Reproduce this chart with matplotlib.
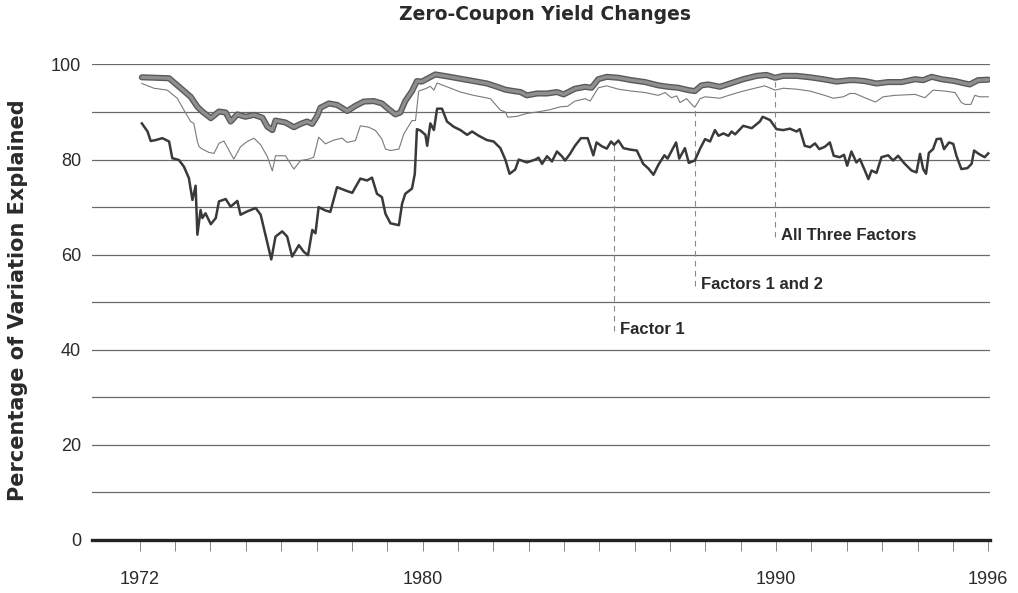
import matplotlib
matplotlib.use("Agg")
import matplotlib.pyplot as plt

# colours
inkDark = "#3a3a3a"
inkGrey = "#7a7a7a"
gridGrey = "#6a6a6a"
textCol = "#2a2a2a"

# --- data (decimal years, percent of variation explained) ---
allYears = [1972.06, 1972.83, 1973.16, 1973.44, 1973.63, 1973.77, 1974.01, 1974.24, 1974.43, 1974.57,
            1974.76, 1974.99, 1975.23, 1975.47, 1975.61, 1975.75, 1975.84, 1976.12, 1976.36, 1976.55,
            1976.73, 1976.88, 1977.02, 1977.11, 1977.35, 1977.58, 1977.87, 1978.10, 1978.34, 1978.62,
            1978.85, 1979.04, 1979.23, 1979.37, 1979.51, 1979.70, 1979.84, 1979.98, 1980.13, 1980.36,
            1980.69, 1981.07, 1981.45, 1981.82, 1982.11, 1982.34, 1982.58, 1982.77, 1982.95, 1983.24,
            1983.52, 1983.80, 1983.99, 1984.31, 1984.60, 1984.78, 1984.97, 1985.21, 1985.54, 1985.91,
            1986.29, 1986.67, 1986.95, 1987.23, 1987.52, 1987.70, 1987.89, 1988.08, 1988.41, 1988.70,
            1989.07, 1989.45, 1989.73, 1989.97, 1990.20, 1990.58, 1990.96, 1991.33, 1991.71, 1992.09,
            1992.23, 1992.51, 1992.84, 1993.17, 1993.55, 1993.93, 1994.16, 1994.40, 1994.68, 1995.06,
            1995.34, 1995.48, 1995.71, 1996.00]
allVals = [97.3, 97.1, 95.0, 93.2, 91.1, 90.1, 88.7, 90.1, 89.9, 88.0,
           89.5, 89.0, 89.4, 88.8, 86.9, 86.2, 88.2, 87.8, 86.8, 87.5,
           88.0, 87.5, 89.2, 90.9, 91.8, 91.5, 90.2, 91.3, 92.2, 92.3,
           91.8, 90.6, 89.5, 89.9, 92.3, 94.4, 96.5, 96.4, 97.0, 97.9,
           97.5, 97.0, 96.5, 96.0, 95.3, 94.7, 94.4, 94.2, 93.5, 93.9,
           93.9, 94.2, 93.7, 94.9, 95.3, 95.1, 96.9, 97.4, 97.2, 96.7,
           96.3, 95.6, 95.3, 95.1, 94.6, 94.4, 95.6, 95.8, 95.3, 96.0,
           96.9, 97.6, 97.8, 97.2, 97.6, 97.6, 97.3, 96.9, 96.4, 96.7,
           96.7, 96.5, 96.0, 96.3, 96.3, 96.9, 96.7, 97.4, 96.9, 96.5,
           96.0, 95.8, 96.7, 96.8]

twoYears = [1972.06, 1972.40, 1972.78, 1973.06, 1973.25, 1973.44, 1973.53, 1973.63, 1973.68, 1973.77,
            1973.96, 1974.10, 1974.24, 1974.38, 1974.52, 1974.66, 1974.85, 1975.04, 1975.23, 1975.42,
            1975.61, 1975.75, 1975.84, 1976.12, 1976.36, 1976.55, 1976.78, 1976.92, 1977.06, 1977.25,
            1977.49, 1977.72, 1977.87, 1978.10, 1978.24, 1978.48, 1978.67, 1978.85, 1978.95, 1979.09,
            1979.33, 1979.47, 1979.70, 1979.80, 1979.89, 1980.08, 1980.22, 1980.32, 1980.41, 1980.69,
            1981.07, 1981.45, 1981.92, 1982.20, 1982.34, 1982.41, 1982.67, 1982.95, 1983.24, 1983.61,
            1983.90, 1984.10, 1984.31, 1984.60, 1984.74, 1984.83, 1984.97, 1985.21, 1985.54, 1985.91,
            1986.29, 1986.67, 1986.86, 1987.04, 1987.19, 1987.28, 1987.47, 1987.61, 1987.70, 1987.85,
            1987.99, 1988.27, 1988.41, 1988.70, 1989.07, 1989.45, 1989.68, 1989.97, 1990.20, 1990.58,
            1990.96, 1991.33, 1991.62, 1991.90, 1992.09, 1992.23, 1992.51, 1992.81, 1993.03, 1993.36,
            1993.93, 1994.21, 1994.44, 1994.77, 1995.06, 1995.24, 1995.34, 1995.51, 1995.62, 1995.76,
            1995.90, 1996.00]
twoVals = [96.0, 95.0, 94.6, 92.9, 90.4, 88.0, 87.6, 83.8, 82.7, 82.2,
           81.5, 81.3, 83.4, 83.9, 82.0, 80.1, 82.7, 83.8, 84.5, 83.1,
           80.6, 77.6, 80.8, 80.8, 78.0, 79.8, 80.1, 80.5, 84.7, 83.3,
           84.1, 84.5, 83.6, 84.0, 87.1, 86.8, 86.1, 84.3, 82.2, 81.9,
           82.2, 85.4, 88.2, 88.2, 94.4, 94.9, 95.4, 94.6, 96.1, 95.3,
           94.2, 93.5, 92.8, 90.4, 90.0, 88.9, 89.1, 89.7, 90.0, 90.5,
           91.1, 91.2, 92.3, 92.8, 92.3, 93.4, 95.1, 95.5, 94.8, 94.4,
           94.1, 93.5, 94.1, 93.0, 93.4, 92.0, 92.8, 91.6, 91.0, 92.8,
           93.2, 93.0, 92.9, 93.6, 94.4, 95.1, 95.5, 94.6, 95.0, 94.8,
           94.4, 93.6, 92.9, 93.2, 93.9, 93.9, 93.0, 92.1, 93.2, 93.5,
           93.7, 93.0, 94.6, 94.4, 94.1, 92.0, 91.6, 91.6, 93.5, 93.2,
           93.2, 93.2]

oneYears = [1972.06, 1972.22, 1972.31, 1972.45, 1972.64, 1972.83, 1972.92, 1973.11, 1973.25, 1973.39,
            1973.49, 1973.58, 1973.63, 1973.72, 1973.77, 1973.86, 1974.01, 1974.15, 1974.24, 1974.43,
            1974.57, 1974.76, 1974.85, 1975.04, 1975.28, 1975.42, 1975.61, 1975.72, 1975.84, 1976.03,
            1976.17, 1976.31, 1976.50, 1976.64, 1976.76, 1976.88, 1976.97, 1977.06, 1977.25, 1977.39,
            1977.58, 1977.82, 1978.01, 1978.24, 1978.43, 1978.57, 1978.71, 1978.85, 1978.95, 1979.09,
            1979.33, 1979.42, 1979.51, 1979.70, 1979.78, 1979.84, 1979.94, 1980.08, 1980.13, 1980.22,
            1980.32, 1980.41, 1980.55, 1980.69, 1980.88, 1981.07, 1981.26, 1981.40, 1981.59, 1981.82,
            1982.01, 1982.20, 1982.34, 1982.46, 1982.62, 1982.72, 1982.95, 1983.19, 1983.28, 1983.38,
            1983.52, 1983.66, 1983.80, 1983.94, 1984.03, 1984.17, 1984.31, 1984.48, 1984.67, 1984.83,
            1984.92, 1985.07, 1985.21, 1985.33, 1985.42, 1985.54, 1985.68, 1985.87, 1986.06, 1986.24,
            1986.39, 1986.53, 1986.67, 1986.84, 1986.93, 1987.17, 1987.26, 1987.42, 1987.53, 1987.70,
            1987.85, 1987.99, 1988.13, 1988.27, 1988.37, 1988.51, 1988.65, 1988.74, 1988.84, 1989.07,
            1989.31, 1989.54, 1989.62, 1989.83, 1990.01, 1990.20, 1990.39, 1990.58, 1990.67, 1990.81,
            1990.96, 1991.10, 1991.22, 1991.38, 1991.52, 1991.63, 1991.80, 1991.92, 1992.01, 1992.13,
            1992.27, 1992.37, 1992.51, 1992.61, 1992.70, 1992.84, 1992.98, 1993.17, 1993.31, 1993.45,
            1993.64, 1993.83, 1993.97, 1994.07, 1994.16, 1994.24, 1994.32, 1994.44, 1994.54, 1994.66,
            1994.75, 1994.89, 1995.01, 1995.10, 1995.24, 1995.41, 1995.53, 1995.60, 1995.73, 1995.90,
            1996.00]
oneVals = [87.6, 85.9, 83.9, 84.1, 84.5, 83.8, 80.3, 79.9, 78.5, 76.1,
           71.5, 74.5, 64.2, 69.4, 67.7, 68.7, 66.4, 67.7, 71.2, 71.7,
           70.1, 71.3, 68.4, 69.1, 69.8, 68.4, 62.4, 59.0, 63.8, 64.9,
           63.8, 59.6, 62.0, 60.6, 59.9, 65.2, 64.5, 70.0, 69.3, 69.0,
           74.2, 73.5, 73.0, 76.0, 75.6, 76.2, 72.8, 72.1, 68.6, 66.6,
           66.2, 70.7, 72.8, 73.9, 77.0, 86.4, 86.1, 85.2, 82.9, 87.6,
           86.2, 90.7, 90.7, 88.0, 86.9, 86.2, 85.2, 85.9, 85.0, 84.1,
           83.8, 82.4, 80.0, 77.0, 77.9, 80.0, 79.4, 80.0, 80.4, 79.1,
           80.7, 79.6, 81.7, 80.7, 79.8, 81.2, 82.9, 84.5, 84.5, 80.9,
           83.6, 82.8, 82.3, 83.8, 83.1, 84.0, 82.4, 82.1, 81.9, 79.1,
           78.1, 76.8, 78.9, 80.9, 80.2, 83.6, 80.2, 82.4, 79.3, 79.8,
           82.3, 84.3, 83.8, 86.2, 85.0, 85.5, 85.0, 85.9, 85.3, 87.1,
           86.6, 88.0, 89.0, 88.3, 86.4, 86.2, 86.5, 85.9, 86.4, 82.9,
           82.6, 83.4, 82.2, 82.7, 83.6, 80.8, 80.5, 81.0, 78.7, 81.7,
           79.4, 80.1, 77.7, 75.9, 77.7, 77.2, 80.5, 80.9, 79.8, 80.8,
           79.1, 77.7, 77.3, 81.2, 78.0, 77.0, 81.4, 82.2, 84.3, 84.4,
           82.2, 83.6, 83.3, 80.8, 78.0, 78.2, 79.1, 81.9, 81.2, 80.5,
           81.3]

# leader lines: label, year, top of line, bottom of line / label height
labelNames = ["Factor 1", "Factors 1 and 2", "All Three Factors"]
labelYears = [1985.42, 1987.70, 1989.97]
labelTops = [83.1, 91.0, 97.2]
labelBottoms = [44.0, 53.5, 63.8]

gridLevels = [10, 20, 30, 40, 50, 60, 70, 80, 90, 100]
yTicks = [0, 20, 40, 60, 80, 100]
xTicks = list(range(1972, 1997))
xLabelYears = [1972, 1980, 1990, 1996]

narrow = ["Liberation Sans Narrow", "Liberation Sans", "DejaVu Sans"]

fig = plt.figure(figsize=(10.18, 5.93), dpi=100)
fig.patch.set_facecolor("white")
ax = fig.add_axes([0.0904, 0.0894, 0.8821, 0.8019])

# horizontal rules
for g in gridLevels:
    ax.axhline(g, color=gridGrey, lw=0.9, zorder=1)

# leader lines
for yr, top, bot in zip(labelYears, labelTops, labelBottoms):
    ax.plot([yr, yr], [bot, top], color="#8a8a8a", lw=0.8, ls=(0, (5, 4)), zorder=2)

# Factor 1
ax.plot(oneYears, oneVals, color=inkDark, lw=1.8, zorder=4)
# Factors 1 and 2
ax.plot(twoYears, twoVals, color=inkGrey, lw=0.8, zorder=4)
# All three factors: dark outline + grey core
ax.plot(allYears, allVals, color="#5a5a5a", lw=4.4, zorder=5, solid_capstyle="round")
ax.plot(allYears, allVals, color="#8f8f8f", lw=2.4, zorder=6, solid_capstyle="round")

for name, yr, bot in zip(labelNames, labelYears, labelBottoms):
    ax.text(yr + 0.17, bot + 0.3, name, fontsize=12, fontweight="bold",
            family="Liberation Sans", color=textCol, va="center", ha="left")

ax.set_xlim(1970.65, 1996.05)
ax.set_ylim(0, 100)

for s in ["top", "right", "left"]:
    ax.spines[s].set_visible(False)
ax.spines["bottom"].set_linewidth(2.4)
ax.spines["bottom"].set_color("#222222")

ax.set_xticks(xTicks)
ax.set_xticklabels([str(y) if y in xLabelYears else "" for y in xTicks])
ax.tick_params(axis="x", direction="out", length=8, width=0.7, color="#888888",
               pad=14, labelsize=13, labelcolor=textCol)
ax.set_yticks(yTicks)
ax.tick_params(axis="y", length=0, pad=8, labelsize=13, labelcolor=textCol)
for lab in ax.get_xticklabels() + ax.get_yticklabels():
    lab.set_family(narrow)

ax.set_ylabel("Percentage of Variation Explained", fontsize=15, fontweight="bold",
              color=textCol, family="DejaVu Sans")
ax.yaxis.set_label_coords(-0.071, 0.505)

fig.text(545 / 1018, 1 - 15 / 593, "Zero-Coupon Yield Changes", fontsize=13.5,
         fontweight="bold", color=textCol, ha="center", va="center",
         family="DejaVu Sans")

fig.savefig("out.png", dpi=100, facecolor="white")
